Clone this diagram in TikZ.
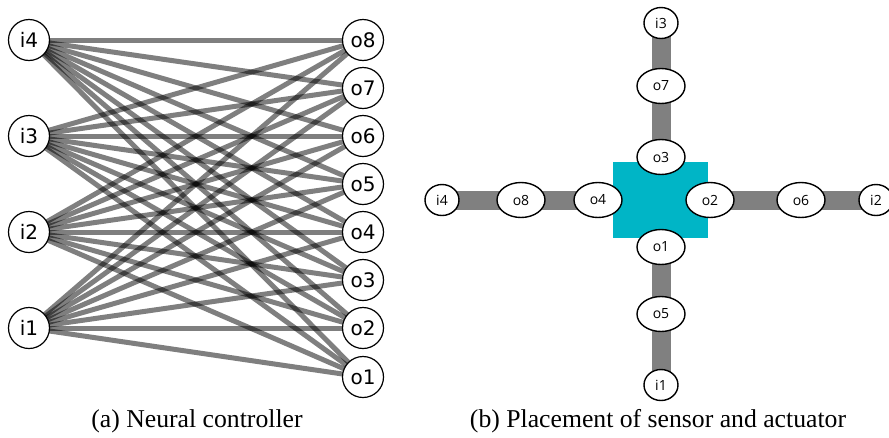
\documentclass[tikz,border=0pt]{standalone}
\usepackage{fontspec}
\usetikzlibrary{shapes.geometric}
\setmainfont{Liberation Serif}
\newfontfamily\nnfont{DejaVu Sans}
\newfontfamily\ppfont{Open Sans}
\pgfdeclarelayer{bg}
\pgfsetlayers{bg,main}
\definecolor{barGray}{RGB}{128,128,128}
\definecolor{bodyCyan}{RGB}{0,181,198}
\begin{document}
\begin{tikzpicture}[x=1pt,y=-1pt,
  neuron/.style={circle, draw=black, line width=1.2pt, fill=white, minimum size=41pt, inner sep=0pt, font=\nnfont\fontsize{20}{20}\selectfont},
  link/.style={line width=5pt, draw=black, draw opacity=0.5},
  part/.style={ellipse, draw=black, line width=1.4pt, fill=white, minimum width=48pt, minimum height=35pt, inner sep=0pt, font=\ppfont\fontsize{14}{14}\selectfont},
  sensor/.style={part, minimum width=34pt, minimum height=31pt},
  bar/.style={line width=19pt, draw=barGray},
  caption/.style={anchor=base, font=\fontsize{25.7}{26}\selectfont}]
\useasboundingbox (0,0) rectangle (889,437);

% (a) neural controller
\node[neuron] (a-i4) at (29,40) {i4};
\node[neuron] (a-i3) at (29,136) {i3};
\node[neuron] (a-i2) at (29,232) {i2};
\node[neuron] (a-i1) at (29,328) {i1};
\node[neuron] (a-o8) at (363,40) {o8};
\node[neuron] (a-o7) at (363,88) {o7};
\node[neuron] (a-o6) at (363,136) {o6};
\node[neuron] (a-o5) at (363,184) {o5};
\node[neuron] (a-o4) at (363,232) {o4};
\node[neuron] (a-o3) at (363,280) {o3};
\node[neuron] (a-o2) at (363,328) {o2};
\node[neuron] (a-o1) at (363,377) {o1};
\begin{pgfonlayer}{bg}
\foreach \i in {1,...,4}{
  \foreach \o in {1,...,8}{
    \draw[link] (a-i\i.center) -- (a-o\o.center);
  }
}
\end{pgfonlayer}
\node[caption] (capa) at (197,427) {(a) Neural controller};

% (b) placement
\node[fill=bodyCyan, minimum width=95pt, minimum height=76pt, inner sep=0pt] (body) at (660.5,200) {};
\node[sensor] (b-i3) at (661,23) {i3};
\node[part] (b-o7) at (661,86) {o7};
\node[part] (b-o3) at (661,157) {o3};
\node[part] (b-o1) at (661,247) {o1};
\node[part] (b-o5) at (661,314) {o5};
\node[sensor] (b-i1) at (661,385) {i1};
\node[sensor] (b-i4) at (442,200) {i4};
\node[part] (b-o8) at (521,200) {o8};
\node[part] (b-o4) at (598,200) {o4};
\node[part] (b-o2) at (710,200) {o2};
\node[part] (b-o6) at (801,200) {o6};
\node[sensor] (b-i2) at (876,200) {i2};
\begin{pgfonlayer}{bg}
\draw[bar] (b-i3.center) -- (b-o3.center);
\draw[bar] (b-o1.center) -- (b-i1.center);
\draw[bar] (b-i4.center) -- (b-o4.center);
\draw[bar] (b-o2.center) -- (b-i2.center);
\end{pgfonlayer}
\node[caption] (capb) at (658,427) {(b) Placement of sensor and actuator};
\end{tikzpicture}
\end{document}
